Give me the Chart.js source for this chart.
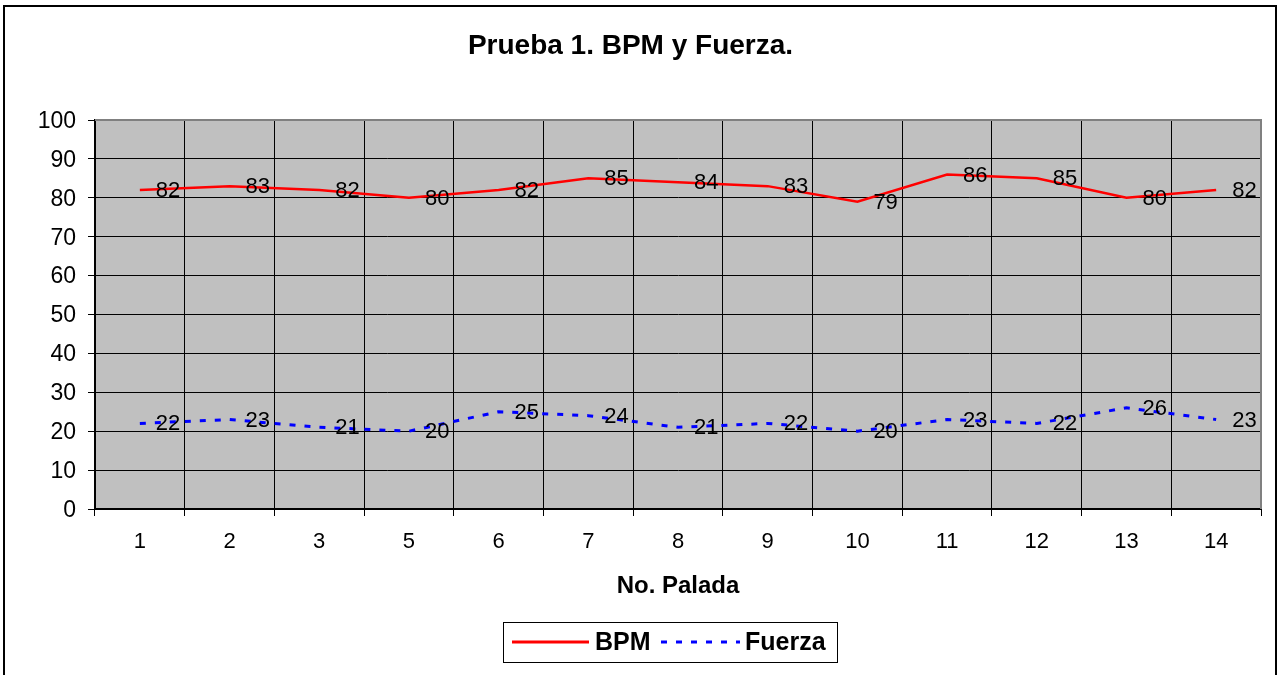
<!DOCTYPE html>
<html>
<head>
<meta charset="utf-8">
<script src="https://cdn.jsdelivr.net/npm/chart.js@4"></script>
<style>
  html, body { margin: 0; padding: 0; background: #fff; }
  #wrap { width: 1283px; height: 675px; position: relative; }
</style>
</head>
<body>
<div id="wrap"><canvas id="myChart"></canvas></div>
<script>
// No. Palada (there is no 4 in the original sheet)
const paladas = ['1', '2', '3', '5', '6', '7', '8', '9', '10', '11', '12', '13', '14'];
const bpm = [82, 83, 82, 80, 82, 85, 84, 83, 79, 86, 85, 80, 82];
const fuerza = [22, 23, 21, 20, 25, 24, 21, 22, 20, 23, 22, 26, 23];
const yTicks = [0, 10, 20, 30, 40, 50, 60, 70, 80, 90, 100];

const FONT = '"Liberation Sans", Arial, sans-serif';

// grey plot area, frame around the whole chart
const backdrop = {
  id: 'backdrop',
  beforeDraw(chart) {
    const { ctx, chartArea: a } = chart;
    ctx.save();
    ctx.fillStyle = '#fff';
    ctx.fillRect(0, 0, chart.width, chart.height);
    ctx.strokeStyle = '#000';
    ctx.lineWidth = 2;
    ctx.strokeRect(4, 6, 1272, 680);
    ctx.fillStyle = '#c0c0c0';
    ctx.fillRect(a.left, a.top, a.right - a.left, a.bottom - a.top);
    ctx.restore();
  },
  beforeDatasetsDraw(chart) {
    const { ctx, chartArea: a } = chart;
    ctx.save();
    ctx.strokeStyle = '#808080';
    ctx.lineWidth = 2;
    ctx.beginPath();
    ctx.moveTo(a.left, a.top);
    ctx.lineTo(a.right, a.top);
    ctx.lineTo(a.right, a.bottom);
    ctx.stroke();
    ctx.restore();
  }
};

// value labels to the right of each point
const valueLabels = {
  id: 'valueLabels',
  afterDatasetsDraw(chart) {
    const ctx = chart.ctx;
    ctx.save();
    ctx.font = '22px ' + FONT;
    ctx.fillStyle = '#000';
    ctx.textAlign = 'left';
    ctx.textBaseline = 'middle';
    chart.data.datasets.forEach((ds, i) => {
      chart.getDatasetMeta(i).data.forEach((pt, j) => {
        ctx.fillText(ds.data[j], pt.x + 16, pt.y + 1);
      });
    });
    ctx.restore();
  }
};

// boxed legend under the axis title
const boxLegend = {
  id: 'boxLegend',
  afterDraw(chart) {
    const ctx = chart.ctx;
    const x0 = 503, y0 = 622, w = 334, h = 40, cy = y0 + h / 2;
    ctx.save();
    ctx.fillStyle = '#fff';
    ctx.fillRect(x0, y0, w, h);
    ctx.strokeStyle = '#000';
    ctx.lineWidth = 1;
    ctx.strokeRect(x0 + 0.5, y0 + 0.5, w, h);
    ctx.font = 'bold 25px ' + FONT;
    ctx.textBaseline = 'middle';
    ctx.fillStyle = '#000';
    const items = [
      { ds: chart.data.datasets[0], x1: 512, x2: 589, tx: 595 },
      { ds: chart.data.datasets[1], x1: 661, x2: 740, tx: 745 }
    ];
    items.forEach(it => {
      ctx.strokeStyle = it.ds.borderColor;
      ctx.lineWidth = 3;
      ctx.setLineDash(it.ds.borderDash || []);
      ctx.beginPath();
      ctx.moveTo(it.x1, cy);
      ctx.lineTo(it.x2, cy);
      ctx.stroke();
      ctx.setLineDash([]);
      ctx.fillText(it.ds.label, it.tx, cy + 1);
    });
    ctx.restore();
  }
};

const ctx = document.getElementById('myChart');
const myChart = new Chart(ctx, {
  type: 'line',
  data: {
    labels: paladas,
    datasets: [
      {
        label: 'BPM',
        data: bpm,
        borderColor: '#ff0000',
        borderWidth: 2.5,
        pointRadius: 0,
        tension: 0
      },
      {
        label: 'Fuerza',
        data: fuerza,
        borderColor: '#0000ff',
        borderWidth: 3,
        borderDash: [6, 9],
        pointRadius: 0,
        tension: 0
      }
    ]
  },
  options: {
    responsive: true,
    maintainAspectRatio: false,
    animation: false,
    layout: { padding: { left: 0, right: 22, top: 0, bottom: 65 } },
    plugins: {
      legend: { display: false },
      tooltip: { enabled: false },
      title: {
        display: true,
        text: 'Prueba 1. BPM y Fuerza.',
        color: '#000',
        font: { family: FONT, size: 28, weight: 'bold', lineHeight: 1.2 },
        padding: { top: 29, bottom: 57.4 }
      }
    },
    scales: {
      x: {
        offset: true,
        grid: { offset: true, color: '#000', lineWidth: 1, tickLength: 7, tickColor: '#000' },
        border: { color: '#000', width: 2 },
        ticks: { color: '#000', font: { family: FONT, size: 22 }, padding: 13, maxRotation: 0 },
        title: {
          display: true,
          text: 'No. Palada',
          color: '#000',
          font: { family: FONT, size: 24, weight: 'bold' },
          padding: { top: 0, bottom: 9 }
        },
        afterFit(scale) { scale.height = 101; }
      },
      y: {
        min: 0,
        max: 100,
        afterBuildTicks(scale) { scale.ticks = yTicks.map(v => ({ value: v })); },
        grid: { color: '#000', lineWidth: 1, tickLength: 7, tickColor: '#000' },
        border: { color: '#000', width: 2 },
        ticks: { color: '#000', font: { family: FONT, size: 23 }, padding: 12, labelOffset: 1.5 },
        afterFit(scale) { scale.width = 95; }
      }
    }
  },
  plugins: [backdrop, valueLabels, boxLegend]
});
</script>
</body>
</html>
